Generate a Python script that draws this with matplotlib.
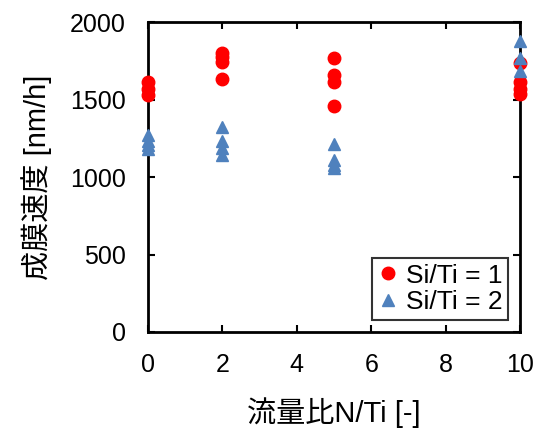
import numpy as np
import matplotlib.pyplot as plt

plt.rcParams['font.family'] = ['Liberation Sans', 'Noto Sans CJK JP']

# Si/Ti = 1
x1 = [0, 0, 0, 2, 2, 2, 2, 5, 5, 5, 5, 10, 10, 10, 10]
y1 = [1610, 1570, 1530, 1800, 1775, 1745, 1630, 1765, 1660, 1610, 1455, 1735, 1610, 1570, 1535]

# Si/Ti = 2
x2 = [0, 0, 0, 0, 2, 2, 2, 2, 5, 5, 5, 5, 10, 10, 10]
y2 = [1270, 1235, 1205, 1180, 1320, 1235, 1185, 1140, 1210, 1110, 1080, 1055, 1875, 1770, 1685]

xticks = [0, 2, 4, 6, 8, 10]
yticks = [0, 500, 1000, 1500, 2000]

fig = plt.figure(figsize=(5.43, 4.32), dpi=100)
ax = fig.add_axes([0.2726, 0.2315, 0.685, 0.7175])

ax.plot(x1, y1, 'o', color='#ff0000', markersize=9, linestyle='none',
        label='Si/Ti = 1', clip_on=False, zorder=3)
ax.plot(x2, y2, '^', color='#4f81bd', markersize=9, linestyle='none',
        label='Si/Ti = 2', clip_on=False, zorder=4)

ax.set_xlim(0, 10)
ax.set_ylim(0, 2000)
ax.set_xticks(xticks)
ax.set_yticks(yticks)
ax.tick_params(direction='in', length=5, width=1.5, top=True, right=True,
               labelsize=18)
ax.tick_params(axis='x', pad=15)
ax.tick_params(axis='y', pad=16)
for s in ax.spines.values():
    s.set_linewidth(2)

ax.set_xlabel('流量比N/Ti [-]', fontsize=21, labelpad=15)
ax.set_ylabel('成膜速度 [nm/h]', fontsize=21, labelpad=13)

leg = ax.legend(loc='lower right', bbox_to_anchor=(0.968, 0.04), fontsize=19,
                frameon=True, fancybox=False, edgecolor='black',
                handlelength=0.8, handletextpad=0.3, borderpad=0.2,
                labelspacing=0.1, borderaxespad=0, markerscale=1.0)
leg.get_frame().set_linewidth(1.5)

fig.savefig('out.png', dpi=100)
